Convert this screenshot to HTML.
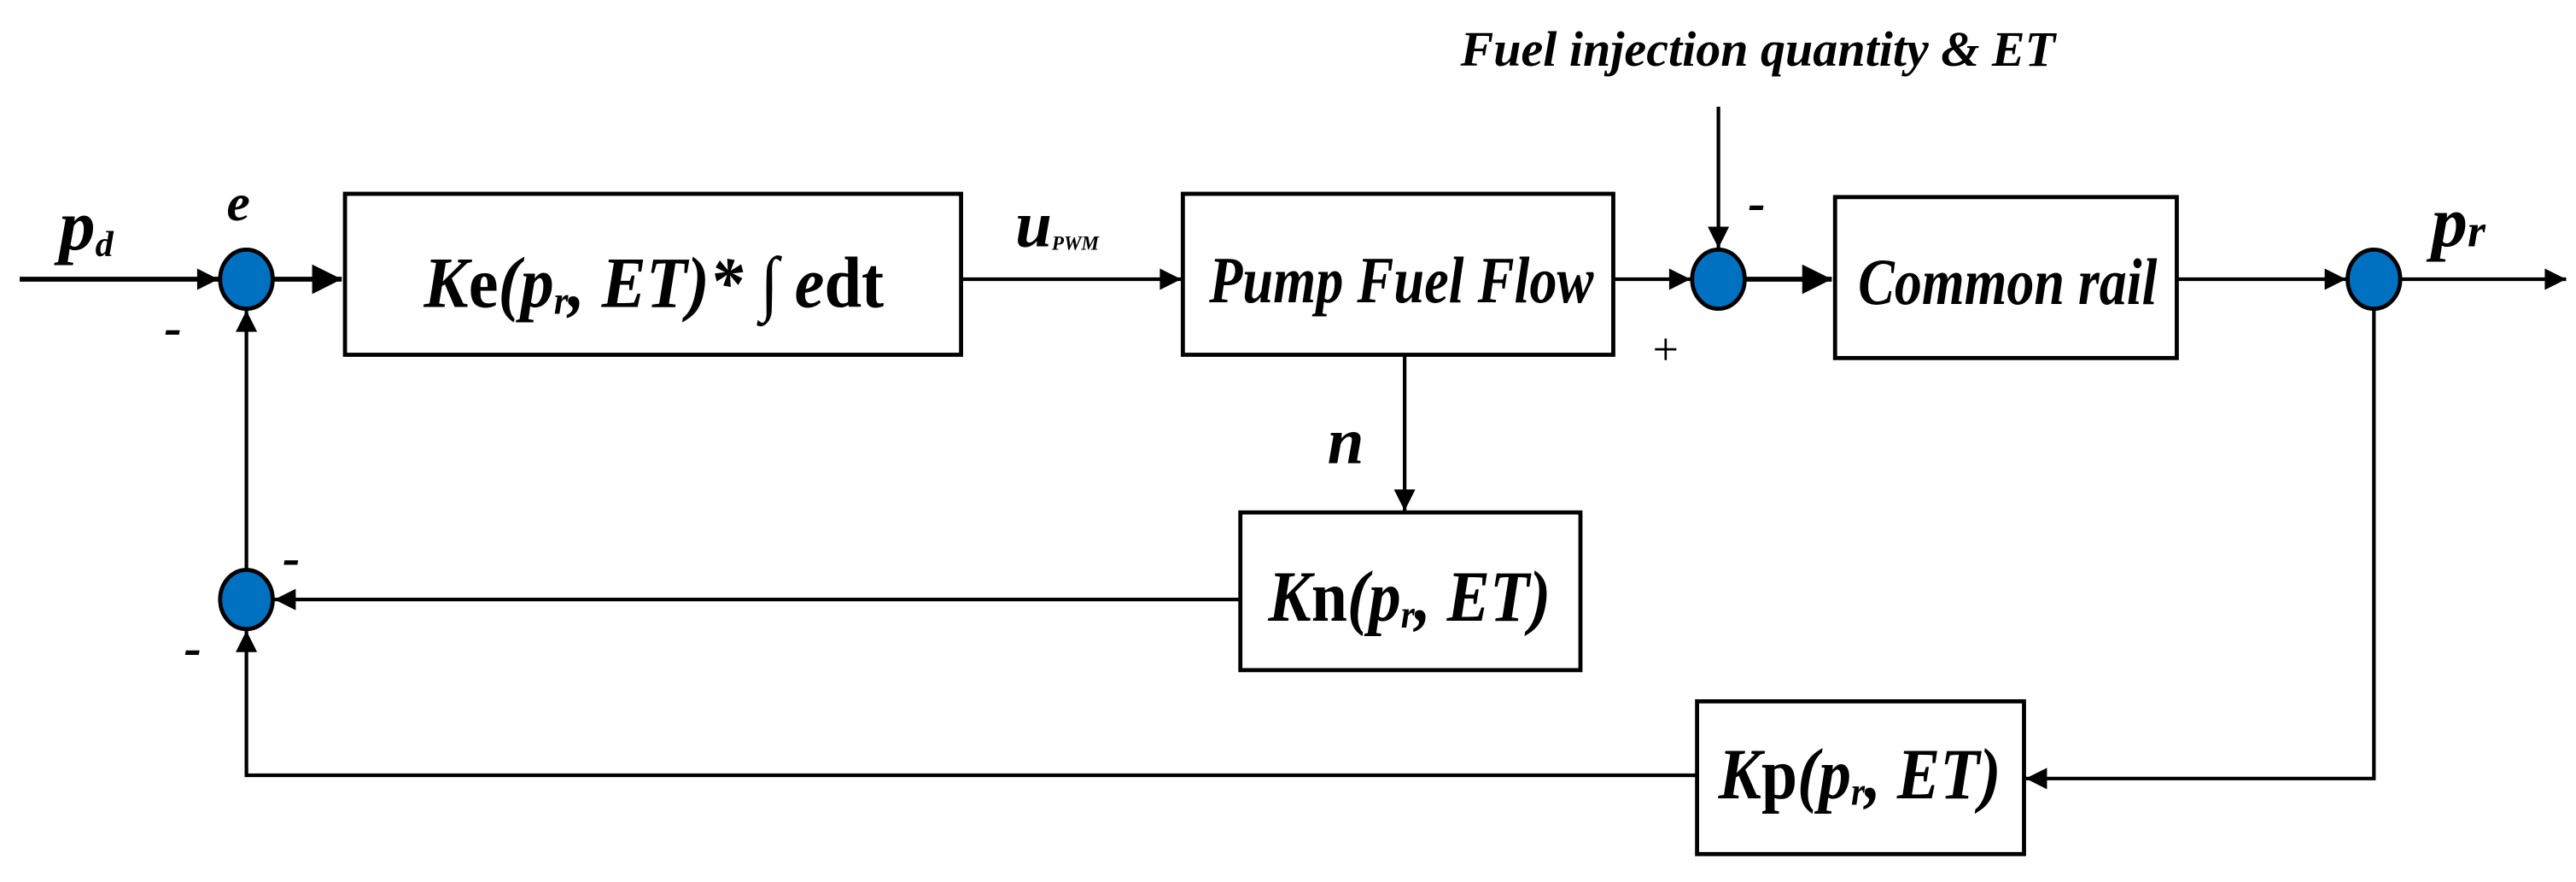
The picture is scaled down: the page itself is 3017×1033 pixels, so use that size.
<!DOCTYPE html>
<html><head><style>html,body{margin:0;padding:0;background:#fff}svg{display:block}</style></head>
<body>
<svg width="3017" height="1033" viewBox="0 0 1568 537" preserveAspectRatio="none" xmlns="http://www.w3.org/2000/svg" font-family="Liberation Serif, serif" font-weight="bold" font-style="italic">
<defs>
<marker id="a" viewBox="0 0 10 10" refX="10" refY="5" markerWidth="15" markerHeight="13" markerUnits="userSpaceOnUse" orient="auto"><path d="M0,0L10,5L0,10z" fill="#000"/></marker>
<marker id="b" viewBox="0 0 10 10" refX="10" refY="5" markerWidth="18" markerHeight="18" markerUnits="userSpaceOnUse" orient="auto"><path d="M0,0L10,5L0,10z" fill="#000"/></marker>
</defs>
<g stroke="#000" stroke-width="2.2" fill="none">
<line x1="12" y1="170" x2="133" y2="170" stroke-width="3" marker-end="url(#a)"/>
<line x1="166" y1="170" x2="208" y2="170" stroke-width="3" marker-end="url(#b)"/>
<line x1="585" y1="170" x2="719" y2="170" marker-end="url(#a)"/>
<line x1="982" y1="170" x2="1029" y2="170" marker-end="url(#a)"/>
<line x1="1046" y1="65" x2="1046" y2="151" marker-end="url(#a)"/>
<line x1="1062" y1="170" x2="1115" y2="170" stroke-width="3" marker-end="url(#b)"/>
<line x1="1325" y1="170" x2="1428" y2="170" marker-end="url(#a)"/>
<line x1="1461" y1="170" x2="1562" y2="170" marker-end="url(#a)"/>
<line x1="855" y1="216" x2="855" y2="311" marker-end="url(#a)"/>
<line x1="755" y1="365" x2="167" y2="365" marker-end="url(#a)"/>
<line x1="150" y1="347" x2="150" y2="189" marker-end="url(#a)"/>
<polyline points="1445,188 1445,474 1233,474" marker-end="url(#a)"/>
<polyline points="1033,472 150,472 150,384" marker-end="url(#a)"/>
<g stroke-width="2.5">
<rect x="210" y="118" width="375" height="98"/>
<rect x="720" y="118" width="262" height="98"/>
<rect x="1117" y="120" width="208" height="98"/>
<rect x="755" y="312" width="207" height="96"/>
<rect x="1033" y="427" width="199" height="93"/>
</g>
<g fill="#0070c0" stroke-width="2.5">
<ellipse cx="150" cy="170" rx="16" ry="18"/>
<ellipse cx="1046" cy="170" rx="16" ry="18"/>
<ellipse cx="1445" cy="170" rx="16" ry="18"/>
<ellipse cx="150" cy="365" rx="16" ry="18"/>
</g>
</g>
<g fill="#000">
<text x="1070" y="40" font-size="30" text-anchor="middle" textLength="362" lengthAdjust="spacingAndGlyphs">Fuel injection quantity &amp; ET</text>
<text x="36" y="152" font-size="44">p<tspan font-size="22" dy="4">d</tspan></text>
<text x="138" y="134" font-size="32">e</text>
<text x="100" y="210" font-size="32">-</text>
<text x="258" y="187" font-size="44" textLength="280" lengthAdjust="spacingAndGlyphs">K<tspan font-style="normal">e</tspan>(p<tspan font-size="24" dy="4">r</tspan><tspan dy="-4">, ET)* ∫ e</tspan><tspan font-style="normal">dt</tspan></text>
<text x="618" y="150" font-size="40">u<tspan font-size="12" dy="2">PWM</tspan></text>
<text x="736" y="184" font-size="40" textLength="234" lengthAdjust="spacingAndGlyphs">Pump Fuel Flow</text>
<text x="1006" y="222" font-size="28" font-weight="normal" font-style="normal">+</text>
<text x="1064" y="134" font-size="32">-</text>
<text x="1131" y="185" font-size="40" textLength="182" lengthAdjust="spacingAndGlyphs">Common rail</text>
<text x="1480" y="150" font-size="44">p<tspan font-size="28">r</tspan></text>
<text x="808" y="282" font-size="40">n</text>
<text x="772" y="378" font-size="44" textLength="172" lengthAdjust="spacingAndGlyphs">K<tspan font-style="normal">n</tspan>(p<tspan font-size="24" dy="4">r</tspan><tspan dy="-4">, ET)</tspan></text>
<text x="1046" y="486" font-size="44" textLength="172" lengthAdjust="spacingAndGlyphs">K<tspan font-style="normal">p</tspan>(p<tspan font-size="24" dy="4">r</tspan><tspan dy="-4">, ET)</tspan></text>
<text x="172" y="350" font-size="32">-</text>
<text x="112" y="405" font-size="32">-</text>
</g>
</svg>
</body></html>
